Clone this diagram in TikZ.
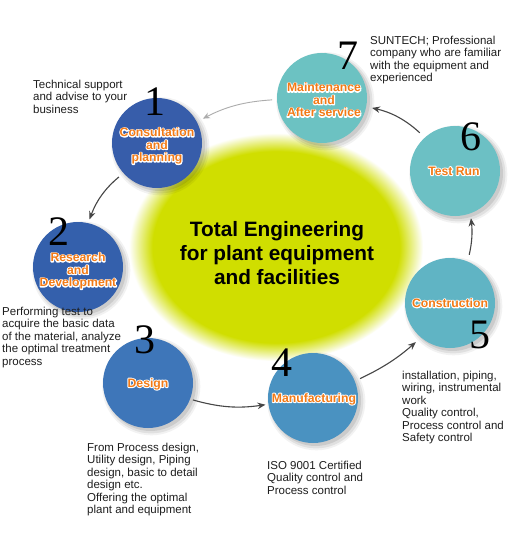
\documentclass[tikz,border=0pt]{standalone}
\usepackage{fontspec}
\setmainfont{Liberation Sans}
\newfontfamily\numfont{Liberation Serif}
\usetikzlibrary{shadows,arrows.meta}
\definecolor{glowc}{RGB}{208,222,0}
\definecolor{lblc}{RGB}{242,122,22}
\definecolor{txtc}{RGB}{30,30,30}
\definecolor{arrc}{RGB}{70,70,70}
\definecolor{arrl}{RGB}{172,172,172}
\definecolor{cA}{RGB}{55,93,170}
\definecolor{cB}{RGB}{52,96,172}
\definecolor{cC}{RGB}{62,118,185}
\definecolor{cD}{RGB}{74,146,193}
\definecolor{cE}{RGB}{96,180,196}
\definecolor{cF}{RGB}{108,192,196}
\definecolor{cG}{RGB}{108,194,194}
\pgfdeclareradialshading{glowshade}{\pgfpoint{0bp}{0bp}}{color(0bp)=(glowc); color(21bp)=(glowc); color(25bp)=(white); color(50bp)=(white)}
\newcommand\strk[1]{\special{pdf:literal direct 1 Tr 2 w 1 j}#1\special{pdf:literal direct 0 Tr 0.4 w 0 j}}
\tikzset{
  stage/.style={circle, inner sep=0pt, outer sep=0pt, minimum size=90pt, fill=#1,
    general shadow={fill=black, opacity=0.05, shadow scale=1.09, shadow xshift=3pt, shadow yshift=-3pt},
    general shadow={fill=black, opacity=0.07, shadow scale=1.05, shadow xshift=3pt, shadow yshift=-3pt},
    general shadow={fill=black, opacity=0.09, shadow scale=1.01, shadow xshift=2.5pt, shadow yshift=-2.5pt}},
  lbl/.style={font=\fontsize{12.2}{12.5}\selectfont\bfseries, text=lblc, align=center, inner sep=0pt},
  halo/.style={lbl, text=white},
  num/.style={font=\numfont\fontsize{42}{42}\selectfont, text=black, inner sep=0pt},
  desc/.style={font=\fontsize{11.5}{12.4}\selectfont, text=txtc, align=left, anchor=north west, inner sep=0pt},
  flow/.style={draw=arrc, line width=1.1pt, -{Stealth[length=8pt,width=6.5pt]}},
  flowlight/.style={draw=arrl, line width=0.9pt, -{Stealth[length=7pt,width=6pt]}},
  title/.style={font=\fontsize{20.8}{24}\selectfont\bfseries, align=center, anchor=north, inner sep=0pt}
}
\begin{document}
\begin{tikzpicture}[x=1pt,y=-1pt]
\useasboundingbox[fill=white] (0,0) rectangle (510,545);
% central glow
\path[shading=glowshade] (276,247) ellipse [x radius=147, y radius=114];
\node[title] (ttl) at (277,221) {Total Engineering\\for plant equipment\\and facilities};
% stages
\node[stage=cA] (c1) at (157,143) {};
\node[stage=cB] (c2) at (78,267) {};
\node[stage=cC] (c3) at (148,383) {};
\node[stage=cD] (c4) at (313,398) {};
\node[stage=cE] (c5) at (450,303) {};
\node[stage=cF] (c6) at (455,171) {};
\node[stage=cG] (c7) at (322,98) {};
% label halos
\node[halo] (h1) at (157,146) {\strk{Consultation}\\\strk{and}\\\strk{planning}};
\node[halo] (h2) at (78,271) {\strk{Research}\\\strk{and}\\\strk{Development}};
\node[halo] (h3) at (148,384) {\strk{Design}};
\node[halo] (h4) at (314,399) {\strk{Manufacturing}};
\node[halo] (h5) at (450,303) {\strk{Construction}};
\node[halo] (h6) at (454,171) {\strk{Test Run}};
\node[halo] (h7) at (324,100) {\strk{Maintenance}\\\strk{and}\\\strk{After service}};
% labels
\node[lbl] (l1) at (h1) {Consultation\\and\\planning};
\node[lbl] (l2) at (h2) {Research\\and\\Development};
\node[lbl] (l3) at (h3) {Design};
\node[lbl] (l4) at (h4) {Manufacturing};
\node[lbl] (l5) at (h5) {Construction};
\node[lbl] (l6) at (h6) {Test Run};
\node[lbl] (l7) at (h7) {Maintenance\\and\\After service};
% numbers
\node[num] (n1) at (155,102) {1};
\node[num] (n2) at (59,232) {2};
\node[num] (n3) at (145,340) {3};
\node[num] (n4) at (282,363) {4};
\node[num] (n5) at (480,335) {5};
\node[num] (n6) at (471,137) {6};
\node[num] (n7) at (348,56) {7};
% arrows
\draw[flowlight, shorten <=5pt, shorten >=7pt] (c7.182) to[bend right=12] (c1.28);
\draw[flow, shorten <=6pt, shorten >=4pt] (c1.222) to[bend right=15] (c2.77);
\draw[flow, shorten <=3pt, shorten >=3pt] (c3.339) to[bend right=12] (c4.188);
\draw[flow, shorten <=6pt, shorten >=7pt] (c4.22) to[bend right=8] (c5.230);
\draw[flow, shorten <=7pt, shorten >=5pt] (c5.67) to[bend right=10] (c6.290);
\draw[flow, shorten <=7pt, shorten >=6pt] (c6.132) to[bend right=15] (c7.349);
% descriptions
\node[desc] (d1) at (33,80) {Technical support\\and advise to your\\business};
\node[desc] (d2) at (2,307) {Performing test to\\acquire the basic data\\of the material, analyze\\the optimal treatment\\process};
\node[desc] (d3) at (87,443) {From Process design,\\Utility design, Piping\\design, basic to detail\\design etc.\\Offering the optimal\\plant and equipment};
\node[desc] (d4) at (267,461) {ISO 9001 Certified\\Quality control and\\Process control};
\node[desc] (d5) at (402,371) {installation, piping,\\wiring, instrumental\\work\\Quality control,\\Process control and\\Safety control};
\node[desc] (d6) at (370,36) {SUNTECH; Professional\\company who are familiar\\with the equipment and\\experienced};
\end{tikzpicture}
\end{document}
